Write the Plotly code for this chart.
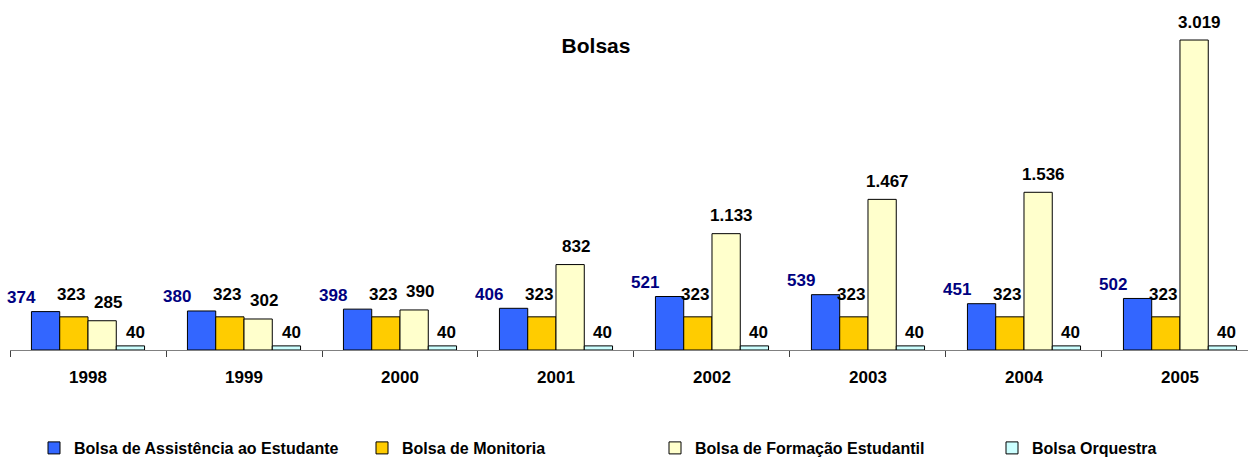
import plotly.graph_objects as go

years = ["1998", "1999", "2000", "2001", "2002", "2003", "2004", "2005"]
series_names = [
    "Bolsa de Assistência ao Estudante",
    "Bolsa de Monitoria",
    "Bolsa de Formação Estudantil",
    "Bolsa Orquestra",
]
assistencia = [374, 380, 398, 406, 521, 539, 451, 502]
monitoria = [323, 323, 323, 323, 323, 323, 323, 323]
formacao = [285, 302, 390, 832, 1133, 1467, 1536, 3019]
orquestra = [40, 40, 40, 40, 40, 40, 40, 40]

values = [assistencia, monitoria, formacao, orquestra]
colors = ["#3366FF", "#FFCC00", "#FFFFCC", "#CCFFFF"]
label_colors = ["#000080", "#000000", "#000000", "#000000"]
label_shift = [(-67, 14), (-17, 22), (20, 18), (47, 13)]
legend_ids = ["legend", "legend2", "legend3", "legend4"]
legend_text_px = [74, 402, 695, 1032]

FONT = "Liberation Sans, Arial, sans-serif"
W, H = 1248, 458


def fmt(v):
    return f"{v:,}".replace(",", ".")


fig = go.Figure()
for name, vals, col, lid in zip(series_names, values, colors, legend_ids):
    fig.add_trace(go.Bar(
        x=years, y=vals, name=name, legend=lid,
        marker=dict(color=col, line=dict(color="#000000", width=1)),
        hoverinfo="skip",
    ))

for vals, lc, (dx, dy) in zip(values, label_colors, label_shift):
    for i, v in enumerate(vals):
        fig.add_annotation(
            x=i, y=v, xref="x", yref="y", text="<b>" + fmt(v) + "</b>",
            showarrow=False, xshift=dx, yshift=dy,
            font=dict(family=FONT, size=17, color=lc),
        )

legend_style = dict(
    orientation="h", xref="container", yref="container",
    y=1 - 448 / H, yanchor="middle", xanchor="left",
    bgcolor="rgba(0,0,0,0)", borderwidth=0,
    font=dict(family=FONT, size=16, color="#000000", weight="bold"),
    itemclick=False, itemdoubleclick=False,
)
legends = {}
for lid, tx in zip(legend_ids, legend_text_px):
    legends[lid] = dict(legend_style, x=(tx - 40) / W)

fig.update_layout(
    width=W, height=H,
    margin=dict(l=10, r=0, t=20, b=108, autoexpand=False),
    paper_bgcolor="white", plot_bgcolor="white",
    barmode="group", bargap=0.275, bargroupgap=0,
    font=dict(family=FONT, size=16, color="#000000"),
    title=dict(text="<b>Bolsas</b>", x=596 / W, xanchor="center",
               y=1 - 46 / H, yanchor="middle", pad=dict(t=0, b=0, l=0, r=0),
               font=dict(family=FONT, size=21, color="#000000")),
    xaxis=dict(
        type="category", range=[-0.5, 7.436],
        showline=True, linecolor="#808080", linewidth=1,
        ticks="outside", tickson="boundaries", ticklen=6, tickcolor="#404040",
        showgrid=False, zeroline=False,
        tickfont=dict(family=FONT, size=17, color="#000000", weight="bold"),
        ticklabelstandoff=12,
    ),
    yaxis=dict(range=[0, 3214], showticklabels=False, ticks="",
               showline=False, showgrid=False, zeroline=False),
    showlegend=True,
    **legends,
)

fig.write_html(
    "out.html",
    config={"displayModeBar": False},
    post_script="document.body.style.margin='0px';",
)
